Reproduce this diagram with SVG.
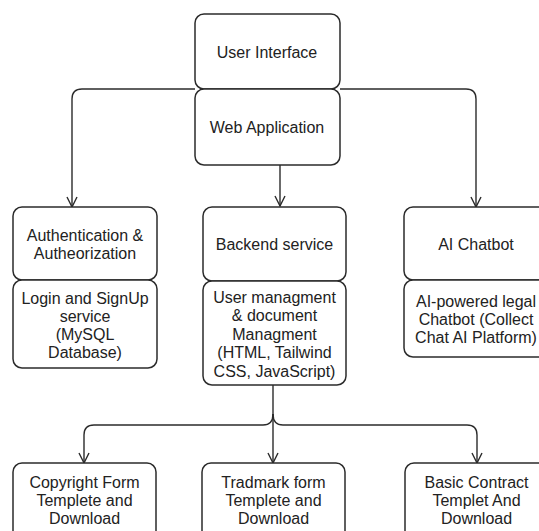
<svg xmlns="http://www.w3.org/2000/svg" width="539" height="531" viewBox="0 0 539 531">
  <style>
    .box { fill: #ffffff; stroke: #2b2b2b; stroke-width: 1.5; }
    .lbl { font-family: "Liberation Sans", Arial, sans-serif; font-size: 16px; fill: #222222; text-anchor: middle; }
    .edge { fill: none; stroke: #2b2b2b; stroke-width: 1.4; }
  </style>
  <defs>
    <marker id="arrow" viewBox="0 0 12 12" refX="11" refY="6" markerWidth="12" markerHeight="12" markerUnits="userSpaceOnUse" orient="auto">
      <path d="M1,1 L11,6 L1,11" fill="none" stroke="#2b2b2b" stroke-width="1.4"/>
    </marker>
  </defs>
  <rect width="539" height="531" fill="#ffffff"/>

  <!-- connectors -->
  <g id="connectors">
    <path class="edge" d="M195,89 L82,89 Q72,89 72,99 L72,207" marker-end="url(#arrow)"/>
    <path class="edge" d="M340,89 L466,89 Q476,89 476,99 L476,207" marker-end="url(#arrow)"/>
    <path class="edge" d="M280,165 L280,206" marker-end="url(#arrow)"/>
    <path class="edge" d="M273,385 L273,463" marker-end="url(#arrow)"/>
    <path class="edge" d="M273,414 Q273,425 263,425 L94,425 Q84,425 84,435 L84,463" marker-end="url(#arrow)"/>
    <path class="edge" d="M273,414 Q273,425 283,425 L467,425 Q477,425 477,435 L477,463" marker-end="url(#arrow)"/>
  </g>

  <g id="user-interface">
    <rect class="box" x="195" y="14" width="145" height="75" rx="9"/>
    <text class="lbl" x="267" y="57.5">User Interface</text>
  </g>
  <g id="web-application">
    <rect class="box" x="195" y="89" width="145" height="76" rx="9"/>
    <text class="lbl" x="267" y="132.5">Web Application</text>
  </g>

  <g id="authentication">
    <rect class="box" x="13" y="207" width="144" height="73" rx="9"/>
    <text class="lbl" x="85" y="240.5">Authentication &amp;</text>
    <text class="lbl" x="85" y="258.5">Autheorization</text>
  </g>
  <g id="login-signup">
    <rect class="box" x="13" y="280" width="144" height="88" rx="9"/>
    <text class="lbl" x="85" y="304">Login and SignUp</text>
    <text class="lbl" x="85" y="322">service</text>
    <text class="lbl" x="85" y="340">(MySQL</text>
    <text class="lbl" x="85" y="358">Database)</text>
  </g>

  <g id="backend-service">
    <rect class="box" x="203" y="207" width="143" height="74" rx="9"/>
    <text class="lbl" x="274.5" y="249.5">Backend service</text>
  </g>
  <g id="user-management">
    <rect class="box" x="203" y="281" width="143" height="104" rx="9"/>
    <text class="lbl" x="274.5" y="302.5">User managment</text>
    <text class="lbl" x="274.5" y="321">&amp; document</text>
    <text class="lbl" x="274.5" y="339.5">Managment</text>
    <text class="lbl" x="274.5" y="358">(HTML, Tailwind</text>
    <text class="lbl" x="274.5" y="376.5">CSS, JavaScript)</text>
  </g>

  <g id="ai-chatbot">
    <rect class="box" x="404" y="207" width="144" height="73" rx="9"/>
    <text class="lbl" x="476" y="249.5">AI Chatbot</text>
  </g>
  <g id="ai-legal-chatbot">
    <rect class="box" x="404" y="280" width="144" height="77" rx="9"/>
    <text class="lbl" x="476" y="307">AI-powered legal</text>
    <text class="lbl" x="476" y="325">Chatbot (Collect</text>
    <text class="lbl" x="476" y="343">Chat AI Platform)</text>
  </g>

  <g id="copyright-form">
    <rect class="box" x="13" y="463" width="143" height="80" rx="9"/>
    <text class="lbl" x="84.5" y="487.5">Copyright Form</text>
    <text class="lbl" x="84.5" y="505.5">Templete and</text>
    <text class="lbl" x="84.5" y="523.5">Download</text>
  </g>
  <g id="trademark-form">
    <rect class="box" x="202" y="463" width="143" height="80" rx="9"/>
    <text class="lbl" x="273.5" y="487.5">Tradmark form</text>
    <text class="lbl" x="273.5" y="505.5">Templete and</text>
    <text class="lbl" x="273.5" y="523.5">Download</text>
  </g>
  <g id="basic-contract">
    <rect class="box" x="405" y="463" width="143" height="80" rx="9"/>
    <text class="lbl" x="476.5" y="487.5">Basic Contract</text>
    <text class="lbl" x="476.5" y="505.5">Templet And</text>
    <text class="lbl" x="476.5" y="523.5">Download</text>
  </g>
</svg>
